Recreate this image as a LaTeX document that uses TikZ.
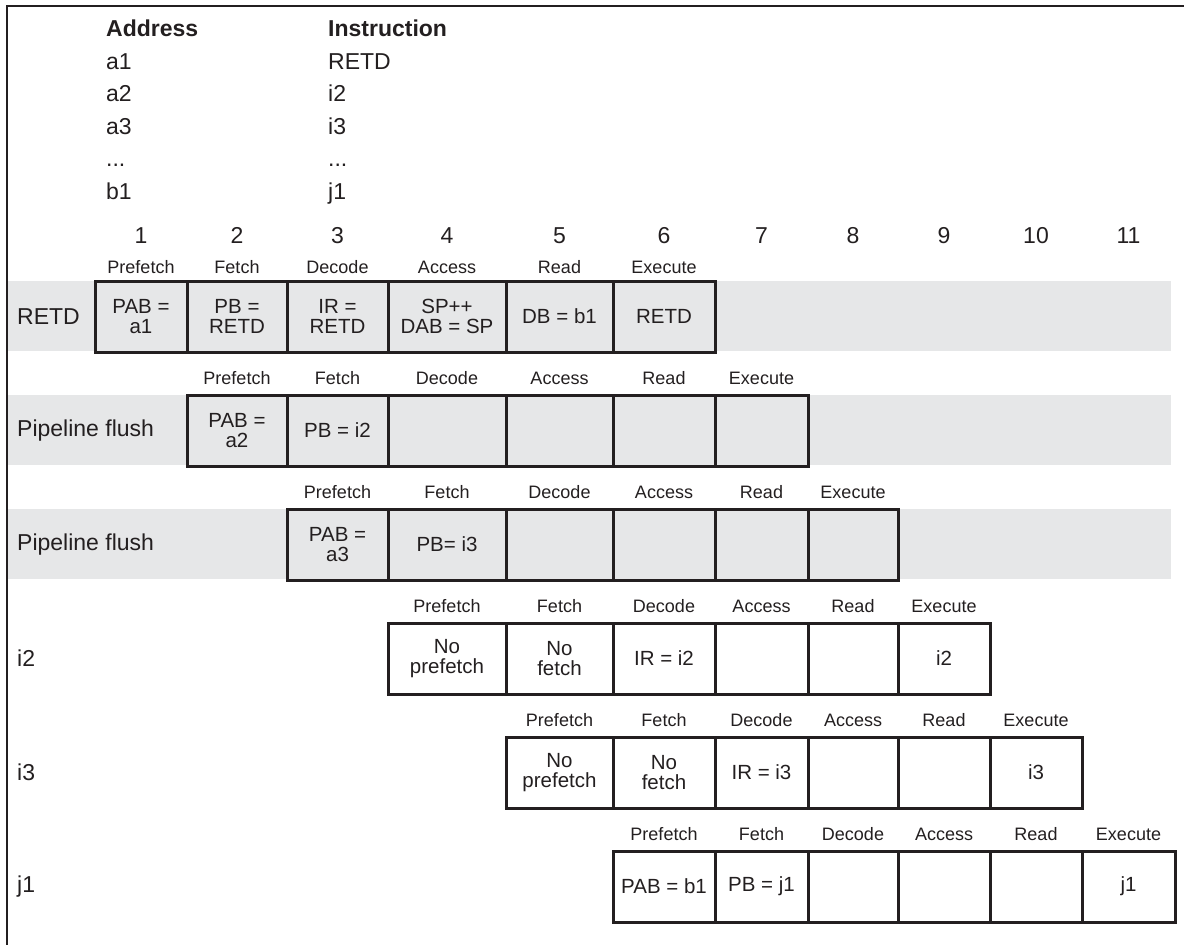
\documentclass[tikz,border=0pt]{standalone}
\usepackage{fontspec}
\setmainfont{Liberation Sans}
\definecolor{ink}{HTML}{231F20}
\definecolor{band}{HTML}{E6E7E8}
\newcommand\bndlist{{95,187,287,388,506,613,715,808,898,990,1082,1175}}
\newcommand\toplist{{281,395,509,623,737,851}}
\newcommand\baselist{{273,384,498,612,726,840}}
% \pcell{name}{column}{row}{text}
\newcommand\pcell[4]{%
  \pgfmathsetmacro\xl{\bndlist[#2-1]}%
  \pgfmathsetmacro\xr{\bndlist[#2]}%
  \pgfmathsetmacro\yt{\toplist[#3-1]}%
  \node[cellbox, minimum width={\xr-\xl}] (#1) at ({(\xl+\xr)/2},{\yt+35.5}) {#4};}
\begin{document}
\begin{tikzpicture}[x=1pt,y=-1pt,
  every node/.style={text=ink},
  cellbox/.style={draw=ink, line width=3pt, inner sep=1pt, align=center,
    font=\fontsize{20.5}{20.5}\selectfont, minimum height=71},
  phase/.style={anchor=base, inner sep=0pt, font=\fontsize{18}{20}\selectfont},
  rowlab/.style={anchor=west, inner sep=0pt, font=\fontsize{23}{26}\selectfont},
  numlab/.style={anchor=base, inner sep=0pt, font=\fontsize{23}{26}\selectfont},
  tabtxt/.style={anchor=base west, inner sep=0pt, font=\fontsize{23}{26}\selectfont},
  tabhead/.style={tabtxt, font=\fontsize{23}{26}\selectfont\bfseries},
  frameline/.style={draw=ink, line width=2pt}
]
\useasboundingbox (0,0) rectangle (1184,945);
% frame
\draw[frameline] (7,945) -- (7,6) -- (1184,6);
% gray bands
\fill[band] (8,281) rectangle (1171,351);
\fill[band] (8,395) rectangle (1171,465);
\fill[band] (8,509) rectangle (1171,579);
% address / instruction table
\node[tabhead] (haddr) at (106,36) {Address};
\node[tabhead] (hinst) at (328,36) {Instruction};
\node[tabtxt] (ad0) at (106,69.5) {a1};
\node[tabtxt] (in0) at (328,69.5) {RETD};
\node[tabtxt] (ad1) at (106,101.9) {a2};
\node[tabtxt] (in1) at (328,101.9) {i2};
\node[tabtxt] (ad2) at (106,134.3) {a3};
\node[tabtxt] (in2) at (328,134.3) {i3};
\node[tabtxt] (ad3) at (106,166.7) {.\kern0pt.\kern0pt.};
\node[tabtxt] (in3) at (328,166.7) {.\kern0pt.\kern0pt.};
\node[tabtxt] (ad4) at (106,199.1) {b1};
\node[tabtxt] (in4) at (328,199.1) {j1};
% column numbers
\foreach \c in {1,...,11} {
  \pgfmathsetmacro\xl{\bndlist[\c-1]}
  \pgfmathsetmacro\xr{\bndlist[\c]}
  \node[numlab] (num\c) at ({(\xl+\xr)/2},243) {\c};
}
% phase labels
\foreach \r in {1,...,6} {
  \foreach [count=\k from 0] \p in {Prefetch,Fetch,Decode,Access,Read,Execute} {
    \pgfmathtruncatemacro\c{\r+\k}
    \pgfmathsetmacro\xl{\bndlist[\c-1]}
    \pgfmathsetmacro\xr{\bndlist[\c]}
    \pgfmathsetmacro\yb{\baselist[\r-1]}
    \node[phase] (ph\r-\c) at ({(\xl+\xr)/2},\yb) {\p};
  }
}
% row labels
\node[rowlab] (lab1) at (17,316.5) {RETD};
\node[rowlab] (lab2) at (17,430.5) {Pipeline flush};
\node[rowlab] (lab3) at (17,544.5) {Pipeline flush};
\node[rowlab] (lab4) at (17,658.5) {i2};
\node[rowlab] (lab5) at (17,772.5) {i3};
\node[rowlab] (lab6) at (17,886.5) {j1};
% row 1: RETD
\pcell{r1c1}{1}{1}{PAB =\\a1}
\pcell{r1c2}{2}{1}{PB =\\RETD}
\pcell{r1c3}{3}{1}{IR =\\RETD}
\pcell{r1c4}{4}{1}{SP++\\DAB = SP}
\pcell{r1c5}{5}{1}{DB = b1}
\pcell{r1c6}{6}{1}{RETD}
% row 2: pipeline flush
\pcell{r2c2}{2}{2}{PAB =\\a2}
\pcell{r2c3}{3}{2}{PB = i2}
\pcell{r2c4}{4}{2}{}
\pcell{r2c5}{5}{2}{}
\pcell{r2c6}{6}{2}{}
\pcell{r2c7}{7}{2}{}
% row 3: pipeline flush
\pcell{r3c3}{3}{3}{PAB =\\a3}
\pcell{r3c4}{4}{3}{PB= i3}
\pcell{r3c5}{5}{3}{}
\pcell{r3c6}{6}{3}{}
\pcell{r3c7}{7}{3}{}
\pcell{r3c8}{8}{3}{}
% row 4: i2
\pcell{r4c4}{4}{4}{No\\prefetch}
\pcell{r4c5}{5}{4}{No\\fetch}
\pcell{r4c6}{6}{4}{IR = i2}
\pcell{r4c7}{7}{4}{}
\pcell{r4c8}{8}{4}{}
\pcell{r4c9}{9}{4}{i2}
% row 5: i3
\pcell{r5c5}{5}{5}{No\\prefetch}
\pcell{r5c6}{6}{5}{No\\fetch}
\pcell{r5c7}{7}{5}{IR = i3}
\pcell{r5c8}{8}{5}{}
\pcell{r5c9}{9}{5}{}
\pcell{r5c10}{10}{5}{i3}
% row 6: j1
\pcell{r6c6}{6}{6}{PAB = b1}
\pcell{r6c7}{7}{6}{PB = j1}
\pcell{r6c8}{8}{6}{}
\pcell{r6c9}{9}{6}{}
\pcell{r6c10}{10}{6}{}
\pcell{r6c11}{11}{6}{j1}
\end{tikzpicture}
\end{document}
